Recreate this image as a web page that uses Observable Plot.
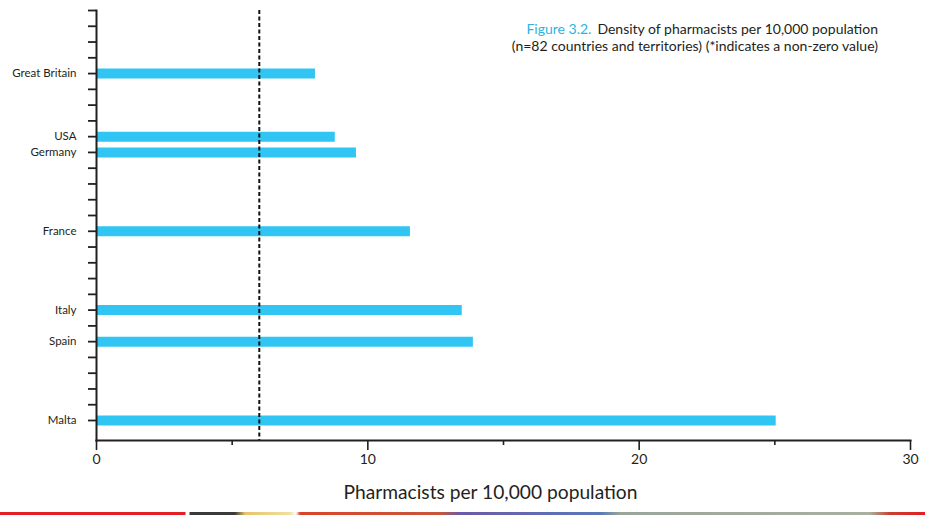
<!DOCTYPE html>
<html>
<head>
<meta charset="utf-8">
<script src="https://cdn.jsdelivr.net/npm/d3@7"></script>
<script src="https://cdn.jsdelivr.net/npm/@observablehq/plot@0.6"></script>
<style>
  html, body { margin: 0; padding: 0; background: #fff; }
  #wrap { position: relative; width: 925px; height: 515px; overflow: hidden; }
  #title { position: absolute; right: 47px; top: 21px; text-align: right;
           font-family: Lato, sans-serif; font-size: 14px; line-height: 16.5px; color: #231f20; }
  #title .fig { color: #2ab4e4; margin-right: 6px; }
  #title div { white-space: nowrap; }
  #strip { position: absolute; left: 0; top: 512px; width: 925px; height: 3px;
           background: linear-gradient(to right, #e31e24 0px, #e31e24 185px, #fff 186px, #fff 189px, #3a3a3a 190px, #3a3a3a 235px, #e8c46a 245px, #f0e0a0 290px, #fff 296px, #d9452b 300px, #c8553a 440px, #6b5aa8 460px, #5a78b8 600px, #9aa59a 620px, #a8b0a0 870px, #c8402e 890px, #e31e24 925px); }
</style>
</head>
<body>
<div id="wrap">
  <div id="chart"></div>
  <div id="title">
    <div><span class="fig">Figure 3.2.</span><span>Density of pharmacists per 10,000 population</span></div>
    <div><span>(n=82 countries and territories) (*indicates a non-zero value)</span></div>
  </div>
  <div id="strip"></div>
</div>
<script>
// Tick slots on the category axis (unlabelled slots are other countries)
const yTicks = ["", "", "", "", "Great Britain", "", "", "", "USA", "Germany", "", "", "", "",
                "France", "", "", "", "", "Italy", "", "Spain", "", "", "", "", "Malta"];
const countries = ["Great Britain", "USA", "Germany", "France", "Italy", "Spain", "Malta"];
const values = [8.07, 8.8, 9.58, 11.57, 13.48, 13.89, 25.05];
const referenceValue = [6];
const majorTicks = [0, 10, 20, 30];
const minorTicks = [5, 15, 25];
const xLabel = "Pharmacists per 10,000 population";

const data = countries.map((c, i) => ({country: c, slot: yTicks.indexOf(c), value: values[i]}));
const barColor = "#30c5f2";
const font = "Lato, sans-serif";

const chart = Plot.plot({
  width: 925,
  height: 515,
  marginTop: 10,
  marginLeft: 96,
  marginRight: 15,
  marginBottom: 75,
  style: {fontFamily: font, color: "#231f20", background: "transparent"},
  x: {domain: [0, 30]},
  y: {type: "point", domain: d3.range(yTicks.length), padding: 0, round: false, range: [10, 420]},
  marks: [
    Plot.ruleY(data, {y: "slot", x1: 0, x2: "value", stroke: barColor, strokeWidth: 10}),
    Plot.ruleX(referenceValue, {stroke: "#111", strokeWidth: 2, strokeDasharray: "4,2.5"}),
    Plot.frame({anchor: "left", stroke: "#231f20", strokeWidth: 2}),
    Plot.frame({anchor: "bottom", stroke: "#231f20", strokeWidth: 2}),
    Plot.axisY({ticks: d3.range(yTicks.length), tickSize: 8, tickPadding: 12, strokeWidth: 1.8,
                tickFormat: i => yTicks[i], fontSize: 11.5, label: null}),
    Plot.axisX({ticks: majorTicks, tickSize: 10, tickPadding: 4, strokeWidth: 1.6,
                fontSize: 14, label: null}),
    Plot.axisX({ticks: minorTicks, tickSize: 5, strokeWidth: 1.6, tickFormat: () => "", label: null}),
    Plot.text([xLabel], {frameAnchor: "bottom", dy: 58, dx: -13, fontSize: 19.2, fill: "#231f20"})
  ]
});
document.getElementById("chart").appendChild(chart);
</script>
</body>
</html>
